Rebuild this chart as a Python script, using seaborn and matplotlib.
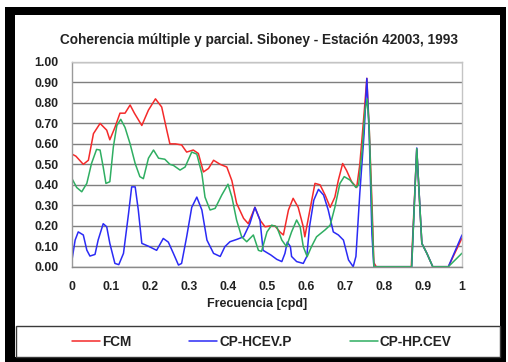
import matplotlib
matplotlib.use("Agg")
import matplotlib.pyplot as plt
import numpy as np
import pandas as pd
import seaborn as sns
from matplotlib.patches import Rectangle
from matplotlib.lines import Line2D

# --- data ---
fcm_f = [0, 0.01, 0.029, 0.042, 0.055, 0.072, 0.089, 0.097, 0.11, 0.123, 0.136, 0.149, 0.16,
         0.179, 0.196, 0.214, 0.23, 0.243, 0.251, 0.265, 0.281, 0.294, 0.311, 0.324, 0.337,
         0.35, 0.363, 0.38, 0.397, 0.41, 0.422, 0.44, 0.452, 0.469, 0.482, 0.495, 0.51, 0.52,
         0.533, 0.542, 0.555, 0.567, 0.58, 0.593, 0.597, 0.61, 0.623, 0.636, 0.649, 0.662,
         0.674, 0.683, 0.694, 0.704, 0.717, 0.73, 0.738, 0.749, 0.756, 0.762, 0.769, 0.774,
         0.78, 0.87, 0.884, 0.897, 0.91, 0.925, 0.965, 1.0]
fcm_v = [0.55, 0.54, 0.50, 0.52, 0.65, 0.70, 0.667, 0.62, 0.68, 0.75, 0.75, 0.79, 0.75,
         0.69, 0.765, 0.82, 0.78, 0.667, 0.60, 0.60, 0.595, 0.56, 0.57, 0.553, 0.463,
         0.48, 0.52, 0.50, 0.487, 0.42, 0.31, 0.236, 0.21, 0.29, 0.228, 0.195, 0.20, 0.20,
         0.17, 0.155, 0.277, 0.334, 0.29, 0.195, 0.146, 0.277, 0.407, 0.40, 0.35, 0.29,
         0.34, 0.423, 0.504, 0.47, 0.415, 0.387, 0.50, 0.75, 0.92, 0.68, 0.32, 0.02,
         0.0, 0.0, 0.575, 0.114, 0.065, 0.0, 0.0, 0.14]

hcev_f = [0, 0.008, 0.016, 0.029, 0.038, 0.046, 0.059, 0.067, 0.08, 0.089, 0.097, 0.11, 0.12,
          0.132, 0.145, 0.153, 0.162, 0.17, 0.179, 0.196, 0.217, 0.234, 0.247, 0.26, 0.273,
          0.281, 0.294, 0.307, 0.32, 0.333, 0.346, 0.363, 0.38, 0.392, 0.405, 0.422, 0.44,
          0.456, 0.469, 0.482, 0.49, 0.51, 0.525, 0.538, 0.546, 0.552, 0.56, 0.563, 0.576,
          0.593, 0.602, 0.609, 0.62, 0.632, 0.645, 0.657, 0.67, 0.683, 0.696, 0.709, 0.721,
          0.728, 0.738, 0.749, 0.756, 0.762, 0.769, 0.774, 0.871, 0.884, 0.897, 0.91, 0.925,
          0.965, 1.0]
hcev_v = [0.033, 0.13, 0.17, 0.155, 0.081, 0.052, 0.06, 0.13, 0.21, 0.195, 0.114, 0.016, 0.01,
          0.065, 0.26, 0.39, 0.39, 0.277, 0.114, 0.10, 0.08, 0.138, 0.12, 0.065, 0.008,
          0.016, 0.146, 0.29, 0.34, 0.277, 0.13, 0.065, 0.05, 0.098, 0.122, 0.133, 0.146,
          0.21, 0.29, 0.228, 0.08, 0.057, 0.036, 0.025, 0.065, 0.12, 0.098, 0.05, 0.025,
          0.016, 0.05, 0.195, 0.325, 0.378, 0.35, 0.277, 0.17, 0.155, 0.13, 0.033, 0.0,
          0.05, 0.36, 0.65, 0.92, 0.65, 0.16, 0.0, 0.0, 0.58, 0.114, 0.065, 0.0,
          0.0, 0.155]

hpcev_f = [0, 0.012, 0.025, 0.038, 0.05, 0.063, 0.072, 0.08, 0.087, 0.097, 0.106, 0.115, 0.125,
           0.136, 0.149, 0.162, 0.174, 0.183, 0.196, 0.209, 0.222, 0.238, 0.251, 0.26, 0.277,
           0.29, 0.307, 0.32, 0.333, 0.341, 0.354, 0.367, 0.384, 0.4, 0.41, 0.422, 0.435,
           0.448, 0.465, 0.478, 0.486, 0.5, 0.512, 0.525, 0.538, 0.55, 0.563, 0.576, 0.585,
           0.593, 0.603, 0.614, 0.627, 0.649, 0.662, 0.674, 0.687, 0.698, 0.713, 0.728,
           0.735, 0.744, 0.751, 0.757, 0.762, 0.768, 0.774, 0.871, 0.884, 0.897, 0.91,
           0.925, 0.965, 1.0]
hpcev_v = [0.43, 0.387, 0.366, 0.407, 0.504, 0.573, 0.57, 0.487, 0.407, 0.415, 0.585, 0.69, 0.72,
           0.68, 0.60, 0.504, 0.44, 0.43, 0.53, 0.57, 0.53, 0.525, 0.50, 0.495, 0.472,
           0.487, 0.56, 0.55, 0.455, 0.34, 0.277, 0.285, 0.35, 0.403, 0.34, 0.228, 0.146,
           0.122, 0.155, 0.08, 0.075, 0.17, 0.203, 0.195, 0.13, 0.098, 0.17, 0.228, 0.195,
           0.098, 0.049, 0.098, 0.146, 0.18, 0.203, 0.29, 0.407, 0.44, 0.423, 0.387,
           0.40, 0.57, 0.76, 0.82, 0.68, 0.32, 0.0, 0.0, 0.577, 0.114, 0.065,
           0.0, 0.0, 0.066]

series_names = ["FCM", "CP-HCEV.P", "CP-HP.CEV"]
series_colors = ["#f42a2a", "#2b2bf5", "#2fae62"]
x_ticks = [0, 0.1, 0.2, 0.3, 0.4, 0.5, 0.6, 0.7, 0.8, 0.9, 1.0]
x_tick_labels = ["0", "0.1", "0.2", "0.3", "0.4", "0.5", "0.6", "0.7", "0.8", "0.9", "1"]
y_ticks = [0.0, 0.1, 0.2, 0.3, 0.4, 0.5, 0.6, 0.7, 0.8, 0.9, 1.0]

df = pd.concat([
    pd.DataFrame({"f": fcm_f, "v": fcm_v, "serie": series_names[0]}),
    pd.DataFrame({"f": hcev_f, "v": hcev_v, "serie": series_names[1]}),
    pd.DataFrame({"f": hpcev_f, "v": hpcev_v, "serie": series_names[2]}),
])

sns.set_style("white")
plt.rcParams["font.family"] = ["Liberation Sans", "DejaVu Sans"]
plt.rcParams["font.weight"] = "bold"

W, H = 508, 362
fig = plt.figure(figsize=(W / 100, H / 100), dpi=100)


def px(x):
    return x / W


def py(y):
    return 1 - y / H


# outer black frame and white inner panel
fig.add_artist(Rectangle((px(5), py(362)), px(506) - px(5), py(7) - py(362),
                         transform=fig.transFigure, facecolor="black", edgecolor="none", zorder=-3))
fig.add_artist(Rectangle((px(15), py(357)), px(500) - px(15), py(15) - py(357),
                         transform=fig.transFigure, facecolor="white", edgecolor="none", zorder=-2))
# legend box
fig.add_artist(Rectangle((px(15.5), py(357)), px(500) - px(15.5), py(326) - py(357),
                         transform=fig.transFigure, facecolor="none", edgecolor="#3a3a3a",
                         linewidth=1.0, zorder=-1))

ax = fig.add_axes([px(72), py(266.7), px(462) - px(72), py(62) - py(266.7)])

palette = dict(zip(series_names, series_colors))
sns.lineplot(data=df, x="f", y="v", hue="serie", palette=palette, estimator=None,
             sort=False, linewidth=1.1, legend=False, ax=ax)

ax.set_xlim(0, 1)
ax.set_ylim(0, 1)
ax.set_xticks(x_ticks)
ax.set_xticklabels(x_tick_labels)
ax.set_xticks(np.arange(0.05, 1.0, 0.1), minor=True)
ax.set_yticks(y_ticks)
ax.set_yticklabels([f"{t:.2f}" for t in y_ticks])
ax.yaxis.grid(True, color="#7f7f7f", linewidth=1.0)
ax.set_axisbelow(True)
ax.set_xlabel("")
ax.set_ylabel("")

for side in ["top", "right"]:
    ax.spines[side].set_color("#c4c4c4")
    ax.spines[side].set_linewidth(1.0)
ax.spines["left"].set_color("#9a9a9a")
ax.spines["bottom"].set_color("#8a8a8a")
ax.spines["left"].set_linewidth(1.0)
ax.spines["bottom"].set_linewidth(1.0)

ax.tick_params(axis="x", which="both", direction="out", length=3, width=1,
               color="#404040", labelsize=8.8, labelcolor="#222222", pad=7)
ax.tick_params(axis="y", which="major", direction="out", length=3, width=1,
               color="#9a9a9a", labelsize=8.8, labelcolor="#222222", pad=6.5)
for lab in ax.get_xticklabels() + ax.get_yticklabels():
    lab.set_fontweight("bold")

fig.text(px(259), py(40), "Coherencia múltiple y parcial. Siboney - Estación 42003, 1993",
         ha="center", va="center", fontsize=9.8, fontweight="bold", color="#222222")
fig.text(px(257), py(304), "Frecuencia [cpd]", ha="center", va="center",
         fontsize=9, fontweight="bold", color="#222222")

handles = [Line2D([], [], color=c, linewidth=1.1) for c in series_colors]
fig.legend(handles, series_names, loc="center left", bbox_to_anchor=(px(72), py(342)),
           ncol=3, frameon=False, prop={"weight": "bold", "size": 9.8},
           handlelength=2.06, handletextpad=0.15, columnspacing=4.26,
           borderpad=0, borderaxespad=0, labelcolor="#222222")

fig.savefig("out.png", dpi=100)
